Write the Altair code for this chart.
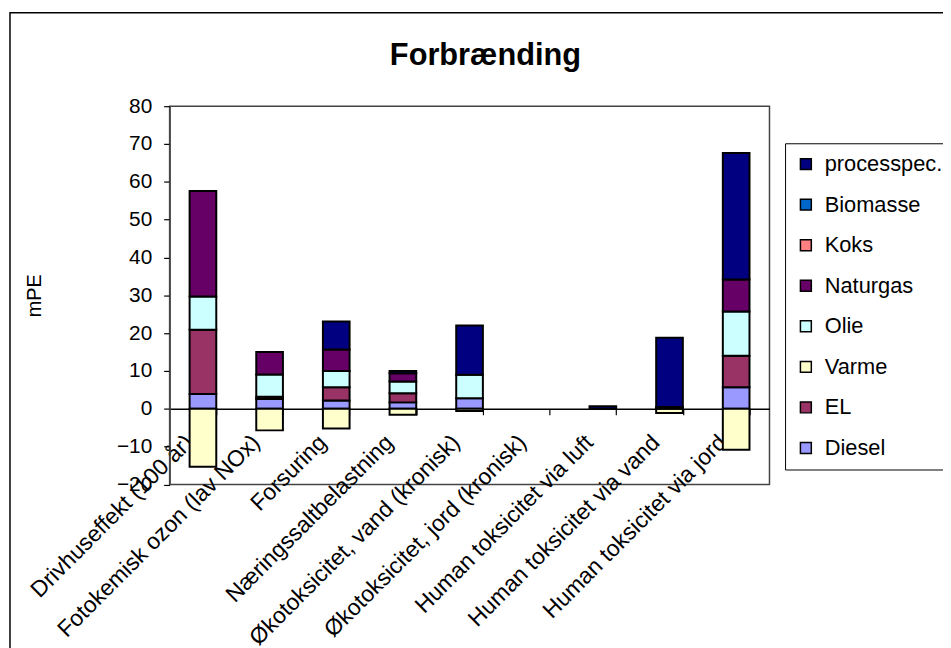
import altair as alt
import pandas as pd

categories = [
    "Drivhuseffekt (100 år)",
    "Fotokemisk ozon (lav NOx)",
    "Forsuring",
    "Næringssaltbelastning",
    "Økotoksicitet, vand (kronisk)",
    "Økotoksicitet, jord (kronisk)",
    "Human toksicitet via luft",
    "Human toksicitet via vand",
    "Human toksicitet via jord",
]

# legend order (top to bottom)
series = ["processpec.", "Biomasse", "Koks", "Naturgas", "Olie", "Varme", "EL", "Diesel"]
colors = ["#000080", "#0066CC", "#FF8080", "#660066", "#CCFFFF", "#FFFFCC", "#993366", "#9999FF"]
# stacking order from the bottom
stack_order = ["Diesel", "EL", "Varme", "Olie", "Naturgas", "Koks", "Biomasse", "processpec."]

diesel = [3.9, 2.6, 2.2, 1.7, 2.8, 0, 0, 0, 5.7]
el = [17.0, 0.6, 3.5, 2.4, 0, 0, 0, 0, 8.3]
varme = [-15.3, -5.7, -5.2, -1.6, -0.6, 0, 0, -1.1, -10.8]
olie = [8.8, 5.9, 4.3, 3.1, 6.2, 0, 0, 0.5, 11.7]
naturgas = [27.9, 5.9, 5.7, 2.2, 0, 0, 0, 0, 8.5]
koks = [0, 0, 0, 0, 0, 0, 0, 0, 0]
biomasse = [0, 0, 0, 0, 0, 0, 0, 0, 0]
processpec = [0, 0, 7.4, 0.6, 13.0, 0, 0.7, 18.3, 33.4]

values = {
    "Diesel": diesel, "EL": el, "Varme": varme, "Olie": olie,
    "Naturgas": naturgas, "Koks": koks, "Biomasse": biomasse, "processpec.": processpec,
}

rows = []
for s in stack_order:
    for c, v in zip(categories, values[s]):
        if v != 0:
            rows.append({"kategori": c, "serie": s, "mPE": v, "rank": stack_order.index(s)})
df = pd.DataFrame(rows)

W, H = 605, 381.5

frame = alt.Chart(alt.Data(values=[{}])).mark_rect(
    fill=None, stroke="black", strokeWidth=1.5
).encode(
    x=alt.value(-161), x2=alt.value(900), y=alt.value(-94.3), y2=alt.value(700)
)

bars = alt.Chart(df).mark_bar(stroke="black", strokeWidth=2).encode(
    x=alt.X("kategori:N", sort=categories,
            scale=alt.Scale(domain=categories, paddingInner=0.6, paddingOuter=0.3),
            axis=alt.Axis(title=None, labelAngle=-45, labelAlign="right", labelBaseline="middle",
                          labelFontSize=23, labelPadding=24, labelOffset=-14, labelColor="black",
                          tickBand="extent", tickSize=6, tickColor="black", tickWidth=1.2,
                          domainColor="black", domainWidth=1.5, offset=-(H * 0.2),
                          labelLimit=400, labelOverlap=False)),
    y=alt.Y("mPE:Q", stack="zero",
            scale=alt.Scale(domain=[-20, 80], nice=False),
            axis=alt.Axis(values=list(range(-20, 81, 10)), grid=False, title="mPE",
                          titleFontSize=20, titleFontWeight="normal", titleColor="black",
                          titleX=-136, titleY=H / 2, titleAngle=-90, titleAlign="center",
                          titleBaseline="middle",
                          labelFontSize=21, labelPadding=12, labelColor="black",
                          tickSize=6, tickColor="black", tickWidth=1.2,
                          domainColor="#444", domainWidth=1.5)),
    color=alt.Color("serie:N", scale=alt.Scale(domain=series, range=colors),
                    legend=alt.Legend(title=None, orient="none", legendX=620.7, legendY=37.4,
                                      strokeColor="black", padding=10, symbolType="square",
                                      symbolSize=121, symbolStrokeColor="black",
                                      symbolStrokeWidth=1.5, labelFontSize=22,
                                      labelColor="black", rowPadding=18.9, labelOffset=8,
                                      labelLimit=300)),
    order=alt.Order("rank:Q", sort="ascending"),
)

chart = alt.layer(frame, bars).properties(
    width=W, height=H,
    title=alt.TitleParams("Forbrænding", fontSize=31, fontWeight="bold", color="black",
                          anchor="middle", dx=16, offset=-60),
    padding={"left": 163, "top": 96.3, "right": 175, "bottom": 162.2},
    autosize=alt.AutoSizeParams(type="none"),
).configure(font="Liberation Sans").configure_view(stroke="#444", strokeWidth=1.5)

chart.save("out.html", embed_options={"renderer": "svg", "actions": False})
